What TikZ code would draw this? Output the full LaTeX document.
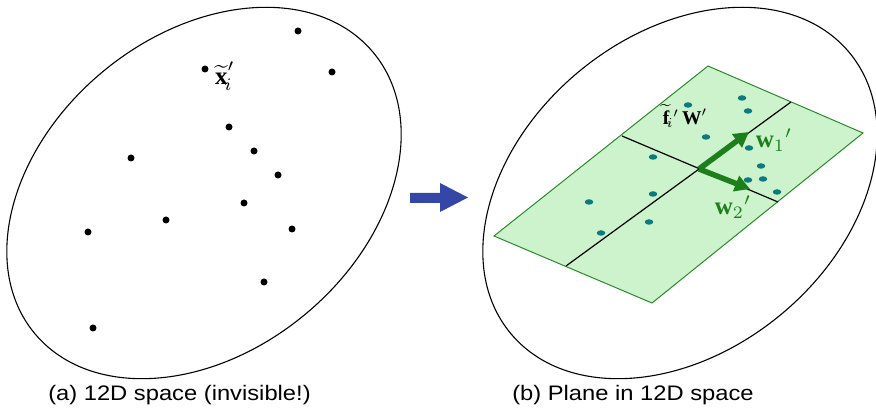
\documentclass[tikz,border=0pt]{standalone}
\usepackage{fontspec}
\setmainfont{Liberation Serif}
\newfontfamily\capfont{Liberation Sans}
\usetikzlibrary{arrows.meta,shapes.geometric}
\definecolor{planefill}{HTML}{CDF3CC}
\definecolor{planeedge}{HTML}{2A8A2A}
\definecolor{vecgreen}{HTML}{1C7F1C}
\definecolor{tealdot}{HTML}{0B7B80}
\definecolor{bluearr}{HTML}{3446A6}
\tikzset{
  blob/.style={circle,fill=black,inner sep=0pt,minimum size=7pt},
  tdot/.style={ellipse,fill=tealdot,inner sep=0pt,minimum width=8.5pt,minimum height=5.5pt},
  space/.style={draw=black,line width=1.1pt},
  midline/.style={draw=black,line width=1.2pt},
  vec/.style={draw=vecgreen,line width=5.5pt,-{Triangle[length=15pt,width=16pt]}},
  caption/.style={font=\capfont\fontsize{21}{24}\selectfont,xscale=1.13,transform shape,inner sep=0pt},
  mlabel/.style={inner sep=0pt,font=\fontsize{10}{12}\selectfont,transform shape}
}
\begin{document}
\begin{tikzpicture}[x=1pt,y=1pt]
\useasboundingbox (0,0) rectangle (876,412);
% left space
\draw[space] (204,219) ellipse[x radius=220,y radius=158,rotate=39.6];
\foreach \p/\n in {{(298,381)}/a1,{(332,340)}/a2,{(205,343)}/a3,{(229,285)}/a4,{(131,254)}/a5,{(254,261)}/a6,{(278,237)}/a7,{(244,209)}/a8,{(166,192)}/a9,{(88,180)}/a10,{(292,183)}/a11,{(264,130)}/a12,{(93,84)}/a13}
  \node[blob] (\n) at \p {};
\node[mlabel,scale=2.5] (xl) at (225,336) {$\widetilde{\textbf{x}}'_{\!i}$};
% blue arrow
\fill[bluearr] (410,209) -- (440,209) -- (440,200) -- (468,214.5) -- (440,229) -- (440,219) -- (410,219) -- cycle;
% right space
\draw[space] (680,219) ellipse[x radius=220,y radius=158,rotate=39.6];
\coordinate (L) at (494,176);
\coordinate (T) at (708,346);
\coordinate (R) at (863,279);
\coordinate (B) at (652,109);
\filldraw[fill=planefill,draw=planeedge,line width=1pt] (L) -- (T) -- (R) -- (B) -- cycle;
\coordinate (m1a) at (622,276);
\coordinate (m1b) at (778,210);
\coordinate (m2a) at (566,146);
\coordinate (m2b) at (791,310);
\coordinate (O) at (699,243);
\draw[midline] (m1a) -- (m1b);
\draw[midline] (m2a) -- (m2b);
\foreach \p/\n in {{(688,307)}/b1,{(742,314)}/b2,{(748,301)}/b3,{(706,275)}/b4,{(749,264)}/b5,{(653,255)}/b6,{(761,246)}/b7,{(748,232)}/b8,{(763,233)}/b9,{(777,220)}/b10,{(653,218)}/b11,{(589,210)}/b12,{(649,190)}/b13,{(601,179)}/b14}
  \node[tdot] (\n) at \p {};
\coordinate (w1tip) at (749,280);
\coordinate (w2tip) at (750,223);
\draw[vec] (O) -- (w1tip);
\draw[vec] (O) -- (w2tip);
\node[mlabel,scale=2.5,text=vecgreen] (w1) at (774,272) {$\textbf{w}_1{}'$};
\node[mlabel,scale=2.5,text=vecgreen] (w2) at (733,205) {$\textbf{w}_2{}'$};
\node[mlabel,scale=1.95] (fw) at (685,296) {$\widetilde{\textbf{f}}_{\!i}{}'\,\textbf{W}'$};
% captions
\node[caption] (ca) at (179.5,17) {(a) 12D space (invisible!)};
\node[caption] (cb) at (633,17) {(b) Plane in 12D space};
\end{tikzpicture}
\end{document}
